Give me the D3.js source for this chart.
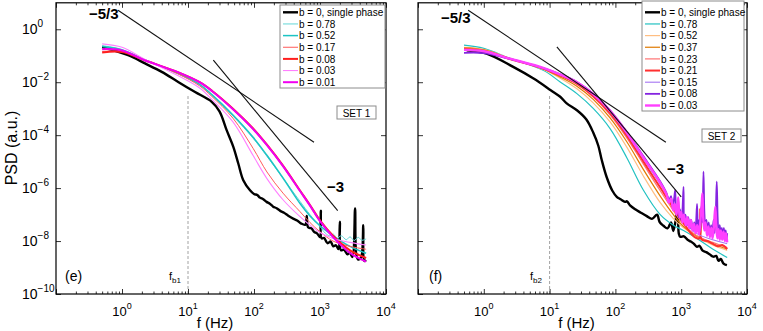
<!DOCTYPE html>
<html>
<head>
<meta charset="utf-8">
<script src="https://cdn.jsdelivr.net/npm/d3@7"></script>
<style>
  body { margin: 0; background: #fff; }
  svg { display: block; font-family: "Liberation Sans", Arial, sans-serif; }
</style>
</head>
<body>
<svg id="figure" width="763" height="331"></svg>
<script>
//----------------
// Data (f in Hz, PSD as log10 values)
//----------------

// SET 1 (left panel)
const fLeftBlack = [0.5, 1.24, 2.23, 4, 7.1, 12.8, 22.9, 30, 38.5, 48.6, 57.8, 68.8, 87, 100, 112, 123, 138, 155, 172, 195,
  220, 250, 285, 330, 398, 450, 520, 600, 630, 660, 740, 820, 891, 960, 1000, 1030, 1060, 1150, 1300, 1450,
  1585, 1750, 1900, 2000, 2080, 2300, 2600, 2820, 3100, 3400, 3550, 3800, 4200, 4530, 4700, 5000];
const logLeftBlack = [-0.67, -0.98, -1.29, -1.61, -1.99, -2.37, -2.74, -3.10, -3.81, -4.44, -5.07, -5.70, -6.08, -6.22, -6.26, -6.36, -6.42, -6.52, -6.58, -6.70,
  -6.76, -6.86, -6.93, -7.04, -7.16, -7.22, -7.34, -7.38, -7.05, -7.48, -7.52, -7.66, -7.70, -7.80, -7.85, -6.85, -7.90, -7.88, -8.08, -8.02,
  -8.20, -8.16, -8.30, -7.27, -8.35, -8.32, -8.50, -8.44, -8.60, -6.77, -8.52, -8.70, -8.62, -7.40, -8.75, -8.72];

const fLeft = [0.5, 1, 2.2, 7, 15, 23, 48, 97, 157, 275, 498, 705, 1000, 1575, 2850, 5000];
const logLeft052 = [-0.65, -0.78, -1.15, -1.66, -2.08, -2.47, -3.24, -4.08, -4.76, -5.62, -6.58, -7.05, -7.42, -7.80, -8.20, -8.46];
const logLeft017 = [-0.84, -0.84, -1.16, -1.68, -2.14, -2.54, -3.36, -4.50, -5.39, -6.19, -6.89, -7.30, -7.65, -8.00, -8.20, -8.31];
const logLeft008 = [-0.88, -0.86, -1.17, -1.62, -2.00, -2.32, -3.00, -3.75, -4.36, -5.15, -6.09, -6.64, -7.22, -7.80, -8.35, -8.64];
const logLeft003 = [-0.55, -0.68, -1.13, -1.75, -2.22, -2.65, -3.50, -4.77, -5.64, -6.44, -7.08, -7.40, -7.68, -7.90, -8.05, -8.15];
const logLeft001 = [-0.75, -0.80, -1.17, -1.62, -2.00, -2.33, -3.02, -3.77, -4.38, -5.17, -6.11, -6.66, -7.25, -7.85, -8.45, -8.78];

const fLeft078 = [0.5, 1, 2.2, 7, 15, 23, 48, 97, 157, 275, 498, 705, 1000, 1200, 1400, 1600, 1800, 2100, 2500, 2850, 3300, 3800, 4300, 5000];
const logLeft078 = [-0.62, -0.76, -1.15, -1.68, -2.10, -2.50, -3.28, -4.12, -4.80, -5.62, -6.50, -7.00, -7.45, -7.70, -7.80, -7.74, -7.90, -7.80, -7.95, -7.84, -7.98, -7.86, -7.97, -7.92];

// SET 2 (right panel)
const fRightBlack = [0.55, 1.1, 2.8, 5.7, 10.4, 14.5, 18.2, 26, 36, 46, 55, 62, 74, 90, 105, 120, 140, 150, 167, 200,
  240, 300, 360, 430, 470, 537, 620, 700, 760, 880, 920, 966, 1100, 1250, 1400, 1550, 1735, 1900, 2100, 2400,
  2700, 3090, 3400, 3700, 4000, 4400, 4950];
const logRightBlack = [-0.79, -0.92, -1.42, -1.86, -2.30, -2.55, -2.80, -3.06, -3.40, -3.90, -4.40, -4.94, -5.60, -6.10, -6.33, -6.42, -6.52, -6.50, -6.65, -6.80,
  -6.92, -7.06, -7.16, -7.00, -7.28, -7.42, -7.52, -7.30, -7.62, -6.85, -7.72, -7.84, -7.82, -7.95, -8.02, -8.10, -8.22, -8.18, -8.35, -8.42,
  -8.50, -8.59, -8.56, -8.75, -8.68, -8.85, -8.91];

const fRight = [0.5, 1, 2.5, 8, 14.5, 26, 46, 83, 149, 267, 480, 760, 1085, 1735, 3000, 5000];
const logRight078 = [-0.60, -0.72, -1.10, -1.55, -1.99, -2.43, -2.99, -3.75, -4.85, -6.08, -7.00, -7.40, -7.60, -7.90, -8.30, -8.62];
const logRight052 = [-0.68, -0.76, -1.10, -1.52, -1.85, -2.25, -2.78, -3.50, -4.45, -5.55, -6.55, -7.15, -7.50, -7.85, -8.15, -8.35];
const logRight037 = [-0.70, -0.78, -1.11, -1.50, -1.80, -2.15, -2.65, -3.35, -4.25, -5.30, -6.30, -7.00, -7.45, -7.82, -8.10, -8.30];
const logRight023 = [-0.72, -0.80, -1.11, -1.49, -1.76, -2.08, -2.56, -3.23, -4.10, -5.10, -6.10, -6.85, -7.38, -7.80, -8.05, -8.25];
const logRight015 = [-0.80, -0.84, -1.12, -1.47, -1.72, -2.02, -2.47, -3.11, -3.95, -4.90, -5.85, -6.65, -7.25, -7.72, -7.95, -8.10];

const fRight021 = [0.5, 1, 2.5, 8, 14.5, 26, 46, 83, 149, 267, 480, 760, 1085, 1300, 1600, 1900, 1950, 2050, 2500, 3000, 3600, 4200, 5000];
const logRight021 = [-0.75, -0.82, -1.12, -1.48, -1.74, -2.05, -2.52, -3.17, -4.02, -5.00, -5.98, -6.75, -7.32, -7.60, -7.85, -7.90, -6.80, -7.95, -8.00, -8.10, -8.20, -8.15, -8.30];

const fRight008 = [0.5, 1, 2.5, 8, 14.5, 26, 46, 83, 149, 267, 480, 600, 650, 700, 740, 780, 810, 840, 880, 920, 960,
  1000, 1040, 1085, 1110, 1160, 1220, 1280, 1350, 1420, 1500, 1580, 1650, 1740, 1800, 1880, 1950, 2020, 2100, 2180, 2250,
  2330, 2420, 2520, 2620, 2730, 2850, 2970, 3100, 3230, 3350, 3470, 3580, 3700, 3850, 4000, 4150, 4300, 4450, 4600, 4750, 4900, 5000];
const logRight008 = [-0.89, -0.90, -1.12, -1.47, -1.70, -1.99, -2.43, -3.06, -3.88, -4.80, -5.75, -6.20, -6.50, -6.30, -6.70, -6.40, -6.08, -6.90, -6.70, -7.10, -6.80,
  -7.20, -6.90, -5.95, -7.20, -7.00, -7.40, -7.10, -7.50, -7.20, -7.60, -7.30, -7.60, -6.60, -7.50, -7.20, -7.60, -6.70, -7.30, -5.38, -6.90,
  -7.50, -7.20, -7.70, -7.30, -7.80, -7.40, -7.80, -7.20, -7.70, -7.00, -5.76, -7.10, -7.70, -7.40, -7.80, -7.50, -7.90, -7.50, -7.90, -7.60, -7.95, -7.70];

const fRight003 = [0.5, 1, 2.5, 8, 14.5, 26, 46, 83, 149, 267, 480, 600, 650, 700, 760, 800, 850, 900, 950, 1000, 1050,
  1100, 1170, 1240, 1320, 1400, 1480, 1570, 1660, 1760, 1860, 1960, 2050, 2100, 2160, 2250, 2350, 2470, 2600, 2730, 2870,
  3000, 3150, 3300, 3420, 3550, 3700, 3850, 4000, 4200, 4400, 4600, 4800, 5000];
const logRight003 = [-0.78, -0.83, -1.11, -1.46, -1.71, -2.00, -2.45, -3.08, -3.90, -4.85, -5.80, -6.25, -6.55, -6.40, -6.85, -6.60, -7.00, -6.35, -7.10, -6.90, -7.30,
  -7.00, -7.40, -7.10, -7.50, -7.20, -7.60, -7.35, -7.70, -7.40, -7.75, -7.20, -6.60, -6.20, -7.10, -7.60, -7.30, -7.80, -7.45, -7.85, -7.50,
  -7.90, -7.40, -6.70, -7.50, -7.90, -7.55, -7.95, -7.60, -7.95, -7.65, -8.00, -7.70, -8.05];

// slope guides: [f start, f end], [psd start, psd end]
const guideLeftF = [[0.87, 811], [24.2, 1853]];
const guideLeftP = [[5.2, 5.4e-5], [0.068, 1.4e-7]];
const guideRightF = [[0.58, 585], [12.9, 1000]];
const guideRightP = [[5.2, 5.4e-5], [0.215, 4.7e-7]];

const labelsLeft = ["b = 0, single phase", "b = 0.78", "b = 0.52", "b = 0.17", "b = 0.08", "b = 0.03", "b = 0.01"];
const labelsRight = ["b = 0, single phase", "b = 0.78", "b = 0.52", "b = 0.37", "b = 0.23", "b = 0.21", "b = 0.15", "b = 0.08", "b = 0.03"];

const xTickExp = [0, 1, 2, 3, 4];
const yTickExp = [0, -2, -4, -6, -8, -10];

//----------------
// Utility functions
//----------------

function toPoints(freqs, logs) {
  return freqs.map(function(f, i) { return {f: f, p: Math.pow(10, logs[i])}; });
}

function supLabel(sel, base, exp, supSize, dy) {
  sel.append("tspan").text(base);
  sel.append("tspan")
    .attr("dy", dy)
    .attr("font-size", supSize)
    .text(exp < 0 ? "\u2212" + (-exp) : exp);
}

//----------------
// Panels
//----------------

const svg = d3.select("#figure");
const yTop = 2.8, yBottom = 294;

const panels = [
  {
    id: "left", x0: 56, x1: 386, yLabels: true,
    series: [
      {pts: toPoints(fLeftBlack, logLeftBlack), color: "#000", w: 2.4},
      {pts: toPoints(fLeft078, logLeft078), color: "#62d6d6", w: 1},
      {pts: toPoints(fLeft, logLeft052), color: "#1cc4c4", w: 1.5},
      {pts: toPoints(fLeft, logLeft017), color: "#ff5a5a", w: 1},
      {pts: toPoints(fLeft, logLeft008), color: "#ff1e1e", w: 2},
      {pts: toPoints(fLeft, logLeft003), color: "#ff80ff", w: 1.1},
      {pts: toPoints(fLeft, logLeft001), color: "#f000f0", w: 2}
    ],
    labels: labelsLeft,
    legend: {x: 280, y: 5, w: 105, h: 83, row0: 12.3},
    guidesF: guideLeftF, guidesP: guideLeftP,
    fiveThirds: [89, 19], three: [327, 192],
    setBox: {x: 337, y: 106, text: "SET 1"},
    tag: "(e)", tagX: 65, fb: "b1", fbX: 169, dashTop: 3e-3
  },
  {
    id: "right", x0: 418, x1: 747, yLabels: false,
    series: [
      {pts: toPoints(fRightBlack, logRightBlack), color: "#000", w: 2.4},
      {pts: toPoints(fRight, logRight078), color: "#22c2c2", w: 1.2},
      {pts: toPoints(fRight, logRight052), color: "#ffbe82", w: 1.2},
      {pts: toPoints(fRight, logRight037), color: "#e07a00", w: 1.2},
      {pts: toPoints(fRight, logRight023), color: "#ff7272", w: 1.2},
      {pts: toPoints(fRight021, logRight021), color: "#ff3030", w: 2},
      {pts: toPoints(fRight, logRight015), color: "#a474f2", w: 1.1},
      {pts: toPoints(fRight008, logRight008), color: "#8424e0", w: 1.8},
      {pts: toPoints(fRight003, logRight003), color: "#ff40ff", w: 2.4}
    ],
    labels: labelsRight,
    legend: {x: 642, y: 1, w: 102, h: 110, row0: 12.3},
    guidesF: guideRightF, guidesP: guideRightP,
    fiveThirds: [441, 23], three: [667, 174],
    setBox: {x: 702, y: 129, text: "SET 2"},
    tag: "(f)", tagX: 429, fb: "b2", fbX: 530, dashTop: 3.5e-3
  }
];

function drawPanel(cfg) {
  var x = d3.scaleLog().domain([0.1, 1e4]).range([cfg.x0, cfg.x1]);
  var y = d3.scaleLog().domain([1e-10, 10]).range([yBottom, yTop]);
  var g = svg.append("g").attr("id", cfg.id);

  g.append("clipPath").attr("id", "clip-" + cfg.id)
    .append("rect")
    .attr("x", cfg.x0).attr("y", yTop)
    .attr("width", cfg.x1 - cfg.x0).attr("height", yBottom - yTop);

  // dashed marker at f = 10 Hz
  g.append("line")
    .attr("x1", x(10)).attr("x2", x(10))
    .attr("y1", y(1e-10)).attr("y2", y(cfg.dashTop))
    .attr("stroke", "#8a8a8a").attr("stroke-width", 0.8)
    .attr("stroke-dasharray", "3,2");

  // series
  var line = d3.line()
    .x(function(d) { return x(d.f); })
    .y(function(d) { return y(d.p); })
    .curve(d3.curveCatmullRom.alpha(0.5));

  var plot = g.append("g").attr("clip-path", "url(#clip-" + cfg.id + ")");
  plot.selectAll(".serie")
    .data(cfg.series)
    .enter().append("path")
      .attr("class", "serie")
      .attr("d", function(d) { return line(d.pts); })
      .attr("fill", "none")
      .attr("stroke", function(d) { return d.color; })
      .attr("stroke-width", function(d) { return d.w; })
      .attr("stroke-linejoin", "round");

  // slope guides
  plot.selectAll(".guide")
    .data(cfg.guidesF)
    .enter().append("line")
      .attr("class", "guide")
      .attr("x1", function(d) { return x(d[0]); })
      .attr("x2", function(d) { return x(d[1]); })
      .attr("y1", function(_, i) { return y(cfg.guidesP[i][0]); })
      .attr("y2", function(_, i) { return y(cfg.guidesP[i][1]); })
      .attr("stroke", "#111").attr("stroke-width", 1.1);

  g.append("text")
    .attr("x", cfg.fiveThirds[0]).attr("y", cfg.fiveThirds[1])
    .attr("font-size", 15).attr("font-weight", "bold")
    .text("\u22125/3");
  g.append("text")
    .attr("x", cfg.three[0]).attr("y", cfg.three[1])
    .attr("font-size", 15).attr("font-weight", "bold")
    .text("\u22123");

  // ----------------
  // Axes (ticks inward, box on)
  // ----------------
  var minors = [];
  d3.range(-1, 4).forEach(function(e) {
    d3.range(2, 10).forEach(function(m) { minors.push(m * Math.pow(10, e)); });
  });
  var majors = d3.range(-1, 5).map(function(e) { return Math.pow(10, e); });

  var axes = [
    {axis: d3.axisBottom(x), t: "translate(0," + yBottom + ")", vals: majors, size: -5},
    {axis: d3.axisBottom(x), t: "translate(0," + yBottom + ")", vals: minors, size: -2.5},
    {axis: d3.axisTop(x), t: "translate(0," + yTop + ")", vals: majors, size: -5},
    {axis: d3.axisTop(x), t: "translate(0," + yTop + ")", vals: minors, size: -2.5}
  ];
  var yMajors = yTickExp.map(function(e) { return Math.pow(10, e); });
  axes.push({axis: d3.axisLeft(y), t: "translate(" + cfg.x0 + ",0)", vals: yMajors, size: -5});
  axes.push({axis: d3.axisRight(y), t: "translate(" + cfg.x1 + ",0)", vals: yMajors, size: -5});

  axes.forEach(function(a) {
    var ag = g.append("g")
      .attr("transform", a.t)
      .call(a.axis.tickValues(a.vals).tickSize(a.size).tickFormat(""));
    ag.select(".domain").remove();
    ag.selectAll(".tick line").attr("stroke", "#000").attr("stroke-width", 0.8);
  });

  // frame
  g.append("rect")
    .attr("x", cfg.x0).attr("y", yTop)
    .attr("width", cfg.x1 - cfg.x0).attr("height", yBottom - yTop)
    .attr("fill", "none").attr("stroke", "#000").attr("stroke-width", 1.2);

  // x tick labels
  g.selectAll(".xlab")
    .data(xTickExp)
    .enter().append("text")
      .attr("class", "xlab")
      .attr("x", function(d) { return x(Math.pow(10, d)); })
      .attr("y", 316)
      .attr("text-anchor", "middle")
      .attr("font-size", 13)
      .each(function(d) { supLabel(d3.select(this), "10", d, 9, -7); });

  if (cfg.yLabels) {
    g.selectAll(".ylab")
      .data(yTickExp)
      .enter().append("text")
        .attr("class", "ylab")
        .attr("x", 22)
        .attr("y", function(d) { return y(Math.pow(10, d)) + 5; })
        .attr("font-size", 14)
        .each(function(d) { supLabel(d3.select(this), "10", d, 10, -7); });
  }

  g.append("text")
    .attr("x", (cfg.x0 + cfg.x1) / 2 - 6).attr("y", 328)
    .attr("text-anchor", "middle").attr("font-size", 15)
    .text("f (Hz)");

  // panel tag and break frequency
  g.append("text")
    .attr("x", cfg.tagX).attr("y", 281)
    .attr("font-size", 14)
    .text(cfg.tag);
  var fb = g.append("text")
    .attr("x", cfg.fbX).attr("y", 280)
    .attr("font-size", 11);
  fb.append("tspan").text("f");
  fb.append("tspan").attr("dy", 3).attr("font-size", 8).text(cfg.fb);

  // SET box
  var sb = g.append("g").attr("transform", "translate(" + cfg.setBox.x + "," + cfg.setBox.y + ")");
  sb.append("rect")
    .attr("width", 39).attr("height", 13)
    .attr("fill", "#fff").attr("stroke", "#8c8c8c").attr("stroke-width", 1);
  sb.append("text")
    .attr("x", 19.5).attr("y", 10.5)
    .attr("text-anchor", "middle").attr("font-size", 10)
    .text(cfg.setBox.text);

  // ----------------
  // Legend
  // ----------------
  var lg = cfg.legend;
  var legend = g.append("g").attr("class", "legend");
  legend.append("rect")
    .attr("x", lg.x).attr("y", lg.y)
    .attr("width", lg.w).attr("height", lg.h)
    .attr("fill", "#fff").attr("stroke", "#8c8c8c").attr("stroke-width", 1);

  legend.selectAll(".key")
    .data(cfg.series)
    .enter().append("line")
      .attr("class", "key")
      .attr("x1", lg.x + 3).attr("x2", lg.x + 18)
      .attr("y1", function(_, i) { return lg.row0 + i * 11.65; })
      .attr("y2", function(_, i) { return lg.row0 + i * 11.65; })
      .attr("stroke", function(d) { return d.color; })
      .attr("stroke-width", function(d) { return d.w; });

  legend.selectAll(".label")
    .data(cfg.labels)
    .enter().append("text")
      .attr("class", "label")
      .attr("x", lg.x + 19)
      .attr("y", function(_, i) { return lg.row0 + i * 11.65 + 3.6; })
      .attr("font-size", 10)
      .text(function(d) { return d; });
}

//----------------
// Main
//----------------

panels.forEach(drawPanel);

svg.append("text")
  .attr("transform", "translate(17,148) rotate(-90)")
  .attr("text-anchor", "middle")
  .attr("font-size", 16)
  .text("PSD (a.u.)");
</script>
</body>
</html>
